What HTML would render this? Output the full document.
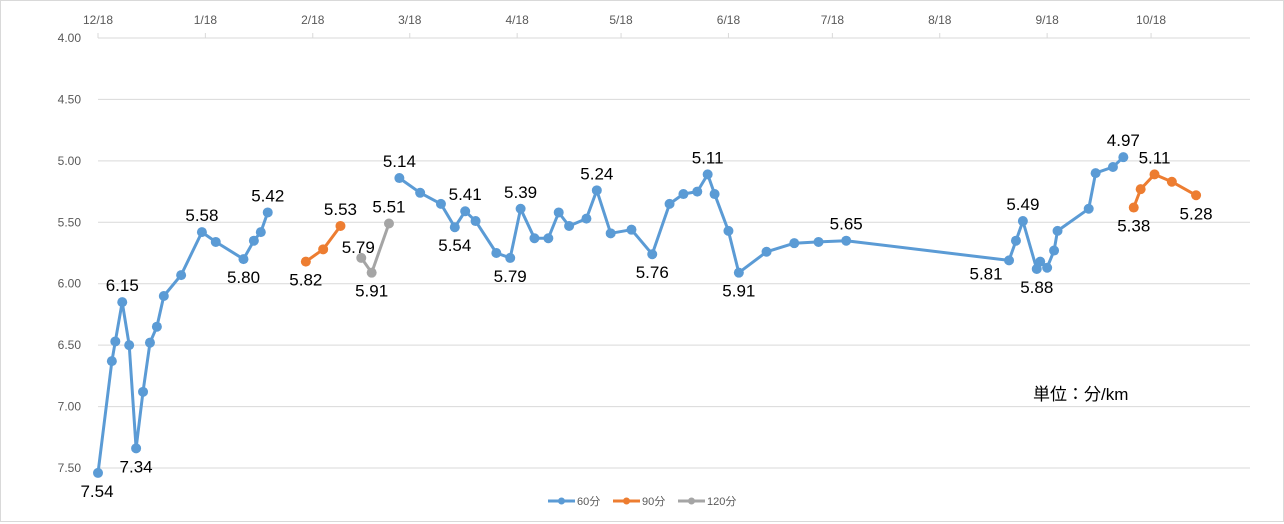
<!DOCTYPE html>
<html><head><meta charset="utf-8"><style>
html,body{margin:0;padding:0;background:#fff;}
svg{display:block;font-family:"Liberation Sans","Noto Sans CJK JP",sans-serif;}
</style></head><body>
<svg id="chart" width="1284" height="524" viewBox="0 0 1284 524" xmlns="http://www.w3.org/2000/svg">
<rect x="0.5" y="0.5" width="1283" height="521" fill="#fff" stroke="#d9d9d9"/>
<g id="grid"></g>
<g id="xaxis"></g>
<g id="yaxis"></g>
<g id="series"></g>
<g id="labels"></g>
<text x="1033" y="400" font-size="17" fill="#000">単位：分/km</text>
<g id="legend"></g>
</svg>
<script>
// y axis ticks (inverted, min pace on top)
const yTicks = [4.00, 4.50, 5.00, 5.50, 6.00, 6.50, 7.00, 7.50];
// x tick labels and their day offsets from 12/18
const xTickLabels = ["12/18","1/18","2/18","3/18","4/18","5/18","6/18","7/18","8/18","9/18","10/18"];
const xTickDays = [0, 31, 62, 90, 121, 151, 182, 212, 243, 274, 304];
// 60分 series: days, values (null = gap), label position
const days60 = [0,4,5,7,9,11,13,15,17,19,24,30,34,42,45,47,49,null,87,93,99,103,106,109,115,119,122,126,130,133,136,141,144,148,154,160,165,169,173,176,178,182,185,193,201,208,216,263,265,267,271,272,274,276,277,286,288,293,296];
const vals60 = [7.54,6.63,6.47,6.15,6.50,7.34,6.88,6.48,6.35,6.10,5.93,5.58,5.66,5.80,5.65,5.58,5.42,null,5.14,5.26,5.35,5.54,5.41,5.49,5.75,5.79,5.39,5.63,5.63,5.42,5.53,5.47,5.24,5.59,5.56,5.76,5.35,5.27,5.25,5.11,5.27,5.57,5.91,5.74,5.67,5.66,5.65,5.81,5.65,5.49,5.88,5.82,5.87,5.73,5.57,5.39,5.10,5.05,4.97];
const lab60 = ["b","","","a","","b","","","","","","a","","b","","","a","","a","","","b","a","","","b","a","","","","","","a","","","b","","","","a","","","b","","","","a","l","","a","b","","","","","","","","a"];
// 90分 series
const days90 = [60,65,70,null,299,301,305,310,317];
const vals90 = [5.82,5.72,5.53,null,5.38,5.23,5.11,5.17,5.28];
const lab90 = ["b","","a","","b","","a","","b"];
// 120分 series
const days120 = [76,79,84];
const vals120 = [5.79,5.91,5.51];
const lab120 = ["al","b","a"];

const X0=98, PXD=3.464, Y0=38, PXV=(468-38)/3.5, XR=1250;
const xs = d => X0 + d*PXD;
const ys = v => Y0 + (v-4)*PXV;
const NS="http://www.w3.org/2000/svg";
function mk(tag, attrs, parent){const e=document.createElementNS(NS,tag);for(const k in attrs)e.setAttribute(k,attrs[k]);parent.appendChild(e);return e;}

const grid=document.getElementById('grid'), yax=document.getElementById('yaxis'), xax=document.getElementById('xaxis');
yTicks.forEach(t=>{
  const l=mk('line',{x1:X0,x2:XR,y1:ys(t),y2:ys(t),stroke:'#d9d9d9','stroke-width':1},grid);
  
  
  const tx=mk('text',{x:81,y:ys(t)+4,'text-anchor':'end','font-size':12,fill:'#595959'},yax);
  tx.textContent=t.toFixed(2);
  
  
});
xTickLabels.forEach((s,i)=>{
  const x=xs(xTickDays[i]);
  const tk=mk('line',{x1:x,x2:x,y1:33,y2:38,stroke:'#d9d9d9'},xax);
  
  
  const tx=mk('text',{x:x,y:24,'text-anchor':'middle','font-size':12,fill:'#595959'},xax);
  tx.textContent=s;
  
  
});

const ser=document.getElementById('series'), labs=document.getElementById('labels');
function drawSeries(days, vals, labsArr, color, name){
  const g=mk('g',{},ser);
  
  
  let d='', pen=false;
  days.forEach((dd,i)=>{
    if(dd===null||vals[i]===null){pen=false;return;}
    d+=(pen?'L':'M')+xs(dd).toFixed(1)+' '+ys(vals[i]).toFixed(1)+' ';pen=true;
  });
  const p=mk('path',{d:d,fill:'none',stroke:color,'stroke-width':3,'stroke-linejoin':'round'},g);
  
  
  days.forEach((dd,i)=>{
    if(dd===null||vals[i]===null)return;
    const cx=xs(dd), cy=ys(vals[i]);
    const c=mk('circle',{cx:cx,cy:cy,r:5,fill:color},g);
    
    
    const L=labsArr[i];
    if(L){
      let lx=cx, ly=cy-11;
      if(L==='b') ly=cy+24;
      if(L==='l'){lx=cx-23; ly=cy+19;}
      if(L==='al'){lx=cx-3; ly=cy-5;}
      if(L==='b'&&i===0&&name==='60'){lx=cx-1;}
      const t=mk('text',{x:lx,y:ly,'text-anchor':'middle','font-size':17,fill:'#000'},labs);
      t.textContent=vals[i].toFixed(2);
      
      
    }
  });
}
drawSeries(days60, vals60, lab60, '#5b9bd5', '60');
drawSeries(days90, vals90, lab90, '#ed7d31', '90');
drawSeries(days120, vals120, lab120, '#a5a5a5', '120');

const leg=document.getElementById('legend');
[['60分','#5b9bd5',548],['90分','#ed7d31',613],['120分','#a5a5a5',678]].forEach(([s,c,x])=>{
  const g=mk('g',{},leg);
  
  
  mk('line',{x1:x,x2:x+27,y1:501,y2:501,stroke:c,'stroke-width':3},g);
  mk('circle',{cx:x+13.5,cy:501,r:3.5,fill:c},g);
  const t=mk('text',{x:x+29,y:505,'font-size':11,fill:'#595959'},g);
  t.textContent=s;
});
</script>
</body></html>
